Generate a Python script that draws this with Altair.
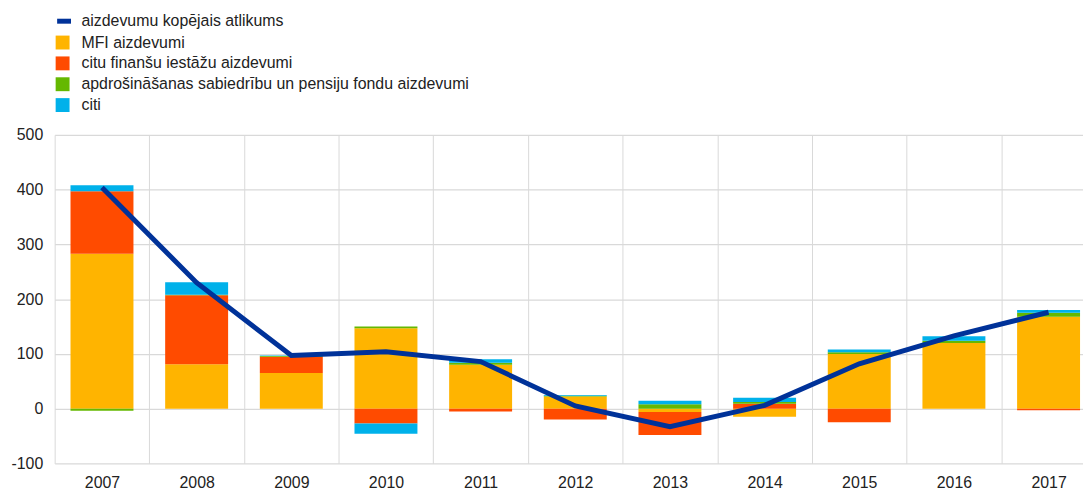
import altair as alt
import pandas as pd

years = ["2007", "2008", "2009", "2010", "2011", "2012", "2013", "2014", "2015", "2016", "2017"]
series_names = [
    "MFI aizdevumi",
    "citu finanšu iestāžu aizdevumi",
    "apdrošināšanas sabiedrību un pensiju fondu aizdevumi",
    "citi",
]
mfi = [283, 81, 65, 147, 80, 22, -6, -15, 100, 120, 168]
citu_fin = [114, 126, 30, -27, -5, -20, -42, 9, -25, 0, -3]
apdros = [-4, 1, 1, 3, 4, 1.5, 8, 3, 3, 4, 7]
citi = [11, 23, 1, -19, 6, 1.5, 6.5, 8, 5, 8, 5]
total_name = "aizdevumu kopējais atlikums"
total = [404, 230, 97, 104, 86, 5, -33, 6, 82, 133, 176]

bar_colors = ["#FFB400", "#FF4B00", "#65B800", "#00B1EA"]
line_color = "#003299"

rows = []
for si, (name, vals) in enumerate(zip(series_names, [mfi, citu_fin, apdros, citi])):
    for y, v in zip(years, vals):
        rows.append({"year": y, "series": name, "value": v, "order": si})
bars_df = pd.DataFrame(rows)
line_df = pd.DataFrame({"year": years, "value": total, "series": [total_name] * len(years)})

FONT = "Arial"
FS = 16
TXT = "#222222"

x_scale = alt.Scale(domain=years, range=[0, 1049], paddingInner=0, paddingOuter=0)
y_scale = alt.Scale(domain=[-100, 500], nice=False)

x_enc = alt.X(
    "year:N",
    scale=x_scale,
    sort=years,
    axis=alt.Axis(
        title=None, labelAngle=0, tickBand="extent", domain=False, ticks=False,
        grid=True, gridColor="#d9d9d9", gridWidth=1, labelPadding=11,
        labelFontSize=FS, labelFont=FONT, labelColor=TXT,
    ),
)
y_enc = alt.Y(
    "value:Q",
    scale=y_scale,
    stack="zero",
    axis=alt.Axis(
        title=None, values=[-100, 0, 100, 200, 300, 400, 500], domain=False, ticks=False,
        grid=True, gridColor="#d9d9d9", gridWidth=1.3, labelPadding=12,
        labelExpr="'' + datum.value",
        labelFontSize=FS, labelFont=FONT, labelColor=TXT,
    ),
)

bars = alt.Chart(bars_df).mark_bar(width=alt.RelativeBandSize(0.665)).encode(
    x=x_enc,
    y=y_enc,
    color=alt.Color(
        "series:N",
        scale=alt.Scale(domain=series_names, range=bar_colors),
        sort=series_names,
        legend=alt.Legend(
            title=None, orient="none", legendX=0, legendY=-101, direction="vertical",
            symbolType="square", symbolSize=196, symbolStrokeWidth=0, rowPadding=5,
            labelOffset=11, labelFontSize=FS, labelFont=FONT, labelColor=TXT,
            padding=0, labelLimit=700,
        ),
    ),
    order=alt.Order("order:Q", sort="ascending"),
)

line = alt.Chart(line_df).mark_line(strokeWidth=5).encode(
    x=alt.X("year:N", scale=x_scale, sort=years),
    y=alt.Y("value:Q", scale=y_scale),
    stroke=alt.Stroke(
        "series:N",
        scale=alt.Scale(domain=[total_name], range=[line_color]),
        legend=alt.Legend(
            title=None, orient="none", legendX=0, legendY=-124, direction="vertical",
            symbolType="stroke", symbolSize=196, symbolStrokeWidth=5,
            labelOffset=8, labelFontSize=FS, labelFont=FONT, labelColor=TXT,
            padding=0, labelLimit=700,
        ),
    ),
)

chart = alt.layer(bars, line).properties(
    width=1036,
    height=331,
    autosize=alt.AutoSizeParams(type="none"),
    padding={"left": 47, "top": 126, "right": 0, "bottom": 26},
).configure_view(stroke=None)

chart.save("out.html", embed_options={"renderer": "svg", "actions": False})
